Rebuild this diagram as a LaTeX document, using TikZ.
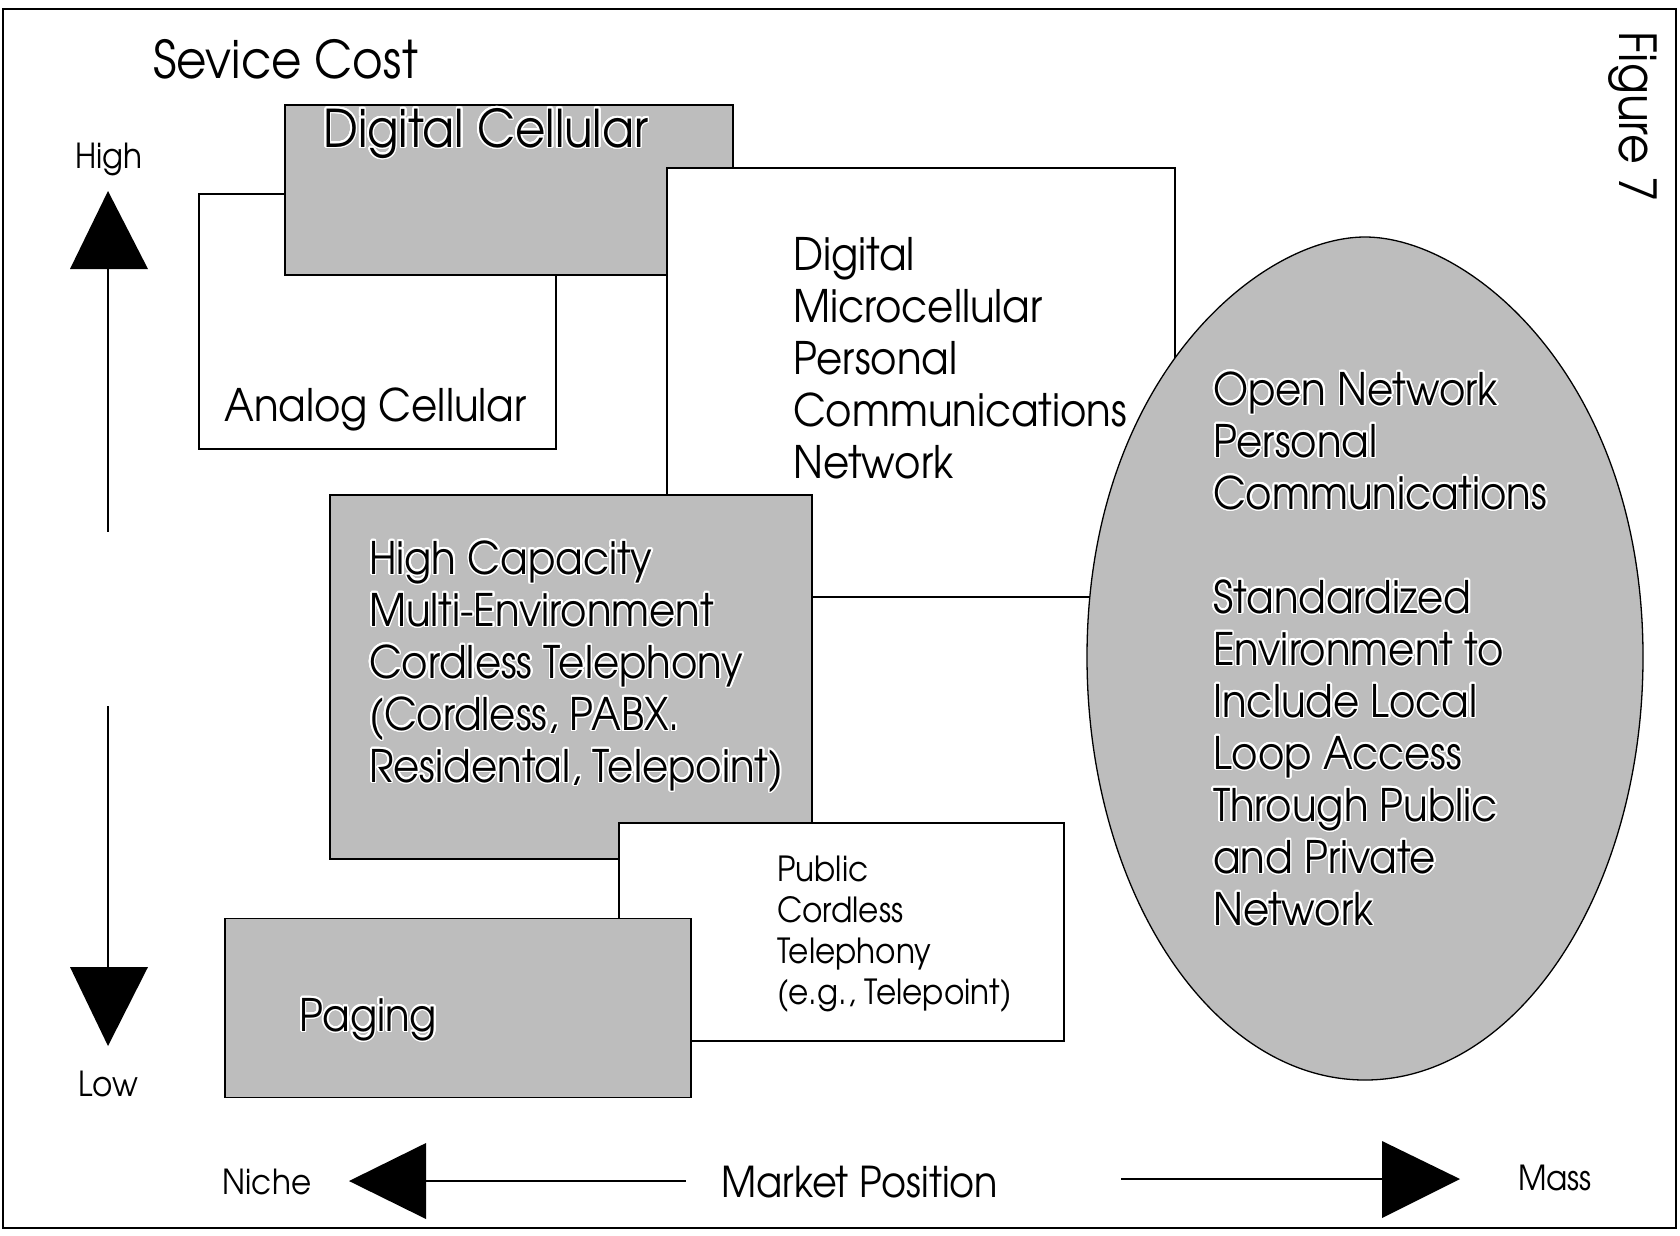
\documentclass[tikz,border=0pt]{standalone}
\usepackage{fontspec}
\usepackage[copies]{contour}
\setmainfont[Extension=.otf, UprightFont=*-regular, BoldFont=*-bold, FakeStretch=0.9]{texgyreadventor}
\contourlength{1.5pt}
\contournumber{24}
\definecolor{screen}{gray}{0.74}
\newcommand\fsz[2]{\fontsize{#1}{#2}\selectfont}
\newcommand\stack[1]{\begin{tabular}[t]{@{}l@{}}#1\end{tabular}}
\newcommand\hl[1]{\contour{white}{#1}}

\begin{document}
\begin{tikzpicture}[x=1pt, y=-1pt,
  panel/.style={draw, line width=1.3pt, inner sep=0pt, rectangle},
  plain/.style={panel, fill=white},
  shaded/.style={panel, fill=screen},
  txt/.style={anchor=base west, inner sep=0pt},
  bigtxt/.style={txt, font=\fsz{52}{58}},
  midtxt/.style={txt, font=\fsz{44.8}{52}},
  pubtxt/.style={txt, font=\fsz{34.6}{41}},
  axtxt/.style={anchor=base, inner sep=0pt, font=\fsz{34.5}{40}},
  axis/.style={line width=1.3pt},
  head/.style={fill=black}]

\useasboundingbox (0,0) rectangle (1680,1235);
\draw[line width=2pt] (3,9) rectangle (1676,1228);

% title of the vertical scale
\node[bigtxt] (cost) at (153,78) {Sevice Cost};

% market segments, back to front
\node[plain,  minimum width=357pt, minimum height=255pt] (analog)  at (377.5,321.5) {};
\node[shaded, minimum width=448pt, minimum height=170pt] (digcell) at (509,190) {};
\node[plain,  minimum width=508pt, minimum height=429pt] (micro)   at (921,382.5) {};
% egg-shaped region for the open network, narrower towards the top
\draw[line width=1.3pt, fill=screen]
  (1087,657) .. controls (1087,380) and (1259,237) .. (1365,237)
  .. controls (1471,237) and (1643,380) .. (1643,657)
  .. controls (1643,890.6) and (1518.5,1080) .. (1365,1080)
  .. controls (1211.5,1080) and (1087,890.6) .. (1087,657) -- cycle;
\node[shaded, minimum width=482pt, minimum height=364pt] (hicap)   at (571,677) {};
\node[plain,  minimum width=445pt, minimum height=218pt] (public)  at (841.5,932) {};
\node[shaded, minimum width=466pt, minimum height=179pt] (paging)  at (458,1008) {};

% segment labels
\node[bigtxt] (digcelltxt) at (323,147) {\hl{Digital Cellular}};
\node[midtxt] (analogtxt) at (224,421) {Analog Cellular};
\node[midtxt] (microtxt) at (793,270)
  {\stack{Digital\\Microcellular\\Personal\\Communications\\Network}};
\node[midtxt] (opentxt) at (1213,405)
  {\stack{\hl{Open Network}\\\hl{Personal}\\\hl{Communications}\\ \\
  \hl{Standardized}\\\hl{Environment to}\\\hl{Include Local}\\\hl{Loop Access}\\
  \hl{Through Public}\\\hl{and Private}\\\hl{Network}}};
\node[midtxt] (hicaptxt) at (369,574)
  {\stack{\hl{High Capacity}\\\hl{Multi-Environment}\\\hl{Cordless Telephony}\\
  \hl{(Cordless, PABX.}\\\hl{Residental, Telepoint)}}};
\node[pubtxt] (publictxt) at (777,881)
  {\stack{Public\\Cordless\\Telephony\\(e.g., Telepoint)}};
\node[midtxt] (pagingtxt) at (299,1031) {\hl{Paging}};

% vertical axis: service cost
\node[axtxt] (high) at (109,168) {High};
\node[axtxt] (low) at (108,1096) {Low};
\coordinate (uptip) at (108,191);
\coordinate (upl) at (70,269);
\coordinate (upr) at (148,269);
\coordinate (upbase) at (108,269);
\coordinate (vgapa) at (108,532);
\coordinate (vgapb) at (108,706);
\coordinate (dnbase) at (108,967);
\coordinate (dnl) at (70,967);
\coordinate (dnr) at (148,967);
\coordinate (dntip) at (108,1046);
\fill[head] (uptip) -- (upl) -- (upr) -- cycle;
\fill[head] (dntip) -- (dnl) -- (dnr) -- cycle;
\draw[axis] (upbase) -- (vgapa);
\draw[axis] (vgapb) -- (dnbase);

% horizontal axis: market position
\node[axtxt] (niche) at (267,1194) {Niche};
\node[axtxt] (mass) at (1555,1190) {Mass};
\node[anchor=base west, inner sep=0pt, font=\fsz{42.5}{48}] (market) at (721,1197) {Market Position};
\coordinate (ltip) at (349,1181);
\coordinate (lt) at (426,1143);
\coordinate (lb) at (426,1219);
\coordinate (lbase) at (426,1181);
\coordinate (lend) at (686,1181);
\coordinate (rstart) at (1121,1179);
\coordinate (rbase) at (1382,1179);
\coordinate (rt) at (1382,1141);
\coordinate (rb) at (1382,1218);
\coordinate (rtip) at (1460,1179);
\fill[head] (ltip) -- (lt) -- (lb) -- cycle;
\fill[head] (rtip) -- (rt) -- (rb) -- cycle;
\draw[axis] (lbase) -- (lend);
\draw[axis] (rstart) -- (rbase);

% figure number, set along the right edge
\node[rotate=-90, inner sep=0pt, font=\fsz{51}{56}] (fig) at (1633,117) {Figure 7};
\end{tikzpicture}
\end{document}
